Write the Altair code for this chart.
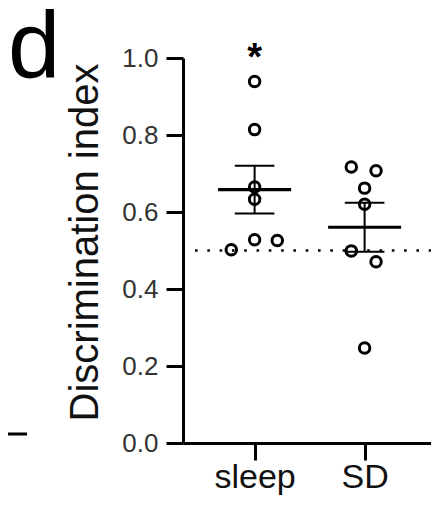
import altair as alt
import pandas as pd
import numpy as np

groups = ["sleep", "SD"]
group_pos = [1, 2]
sleep_values = [0.939, 0.814, 0.665, 0.633, 0.528, 0.526, 0.502]
sleep_jitter = [0.0, 0.0, 0.0, 0.0, 0.0, 0.206, -0.212]
sd_values = [0.717, 0.707, 0.662, 0.620, 0.499, 0.471, 0.247]
sd_jitter = [-0.121, 0.104, 0.0, 0.0, -0.121, 0.104, 0.0]
y_ticks = [0.0, 0.2, 0.4, 0.6, 0.8, 1.0]
chance_level = 0.5
mean_half = 0.332
cap_half = 0.18

FONT = "Liberation Sans"
W = 248
H = 385

rows = []
for g, p, vals, jit in [("sleep", 1, sleep_values, sleep_jitter), ("SD", 2, sd_values, sd_jitter)]:
    for v, j in zip(vals, jit):
        rows.append({"group": g, "x": p + j, "y": v})
pts = pd.DataFrame(rows)

summ = []
for g, p, vals in [("sleep", 1, sleep_values), ("SD", 2, sd_values)]:
    a = np.array(vals)
    m = a.mean()
    se = a.std(ddof=1) / np.sqrt(len(a))
    summ.append({"group": g, "pos": p, "mean": m, "lo": m - se, "hi": m + se,
                 "ml": p - mean_half, "mr": p + mean_half,
                 "cl": p - cap_half, "cr": p + cap_half})
sm = pd.DataFrame(summ)

xscale = alt.Scale(domain=[0.349, 0.349 + W / 110.0], nice=False, zero=False)
yscale = alt.Scale(domain=[0, 1], nice=False)

label_expr = "datum.value == 1 ? 'sleep' : (datum.value == 2 ? 'SD' : '')"

base_x_axis = alt.Axis(values=group_pos, labelExpr=label_expr, title=None, grid=False,
                       domainColor="black", domainWidth=3, tickColor="black", tickWidth=3,
                       tickSize=17, labelFont=FONT, labelFontSize=34, labelColor="#111",
                       labelPadding=0, labelBaseline="top")
base_y_axis = alt.Axis(values=y_ticks, format=".1f", title="Discrimination index", grid=False,
                       domainColor="black", domainWidth=3, tickColor="black", tickWidth=3,
                       tickSize=17, labelFont=FONT, labelFontSize=26, labelColor="#333",
                       labelPadding=8, titleFont=FONT, titleFontSize=40, titleFontWeight="normal",
                       titleColor="#111", titleAngle=270, titleX=-86, titleY=184,
                       titleAlign="center", titleBaseline="alphabetic")

points = alt.Chart(pts).mark_point(shape="circle", filled=False, size=110, strokeWidth=3,
                                   color="black", opacity=1).encode(
    x=alt.X("x:Q", scale=xscale, axis=base_x_axis),
    y=alt.Y("y:Q", scale=yscale, axis=base_y_axis),
)

chance = alt.Chart(pd.DataFrame({"y": [chance_level]})).mark_rule(
    color="black", strokeWidth=2.6, strokeDash=[2.6, 9.7], strokeCap="butt").encode(
    y=alt.Y("y:Q", scale=yscale), x=alt.value(12), x2=alt.value(W))

mean_line = alt.Chart(sm).mark_rule(color="black", strokeWidth=3.2).encode(
    x=alt.X("ml:Q", scale=xscale), x2="mr:Q", y=alt.Y("mean:Q", scale=yscale))
err_v = alt.Chart(sm).mark_rule(color="black", strokeWidth=2).encode(
    x=alt.X("pos:Q", scale=xscale), y=alt.Y("lo:Q", scale=yscale), y2="hi:Q")
cap_hi = alt.Chart(sm).mark_rule(color="black", strokeWidth=2).encode(
    x=alt.X("cl:Q", scale=xscale), x2="cr:Q", y=alt.Y("hi:Q", scale=yscale))
cap_lo = alt.Chart(sm).mark_rule(color="black", strokeWidth=2).encode(
    x=alt.X("cl:Q", scale=xscale), x2="cr:Q", y=alt.Y("lo:Q", scale=yscale))

star = alt.Chart(pd.DataFrame({"x": [1], "y": [1.0], "t": ["*"]})).mark_text(
    font=FONT, fontSize=38, fontWeight="bold", color="black", baseline="alphabetic", dy=12).encode(
    x=alt.X("x:Q", scale=xscale), y=alt.Y("y:Q", scale=yscale), text="t:N")

panel = alt.Chart(pd.DataFrame({"t": ["d"]})).mark_text(
    font=FONT, fontSize=94, color="black", align="left", baseline="alphabetic").encode(
    x=alt.value(-175), y=alt.value(20), text="t:N")

frag = alt.Chart(pd.DataFrame({"a": [0]})).mark_rule(color="black", strokeWidth=3).encode(
    x=alt.value(-175), x2=alt.value(-156), y=alt.value(376))

chart = alt.layer(chance, points, mean_line, err_v, cap_hi, cap_lo, star, panel, frag).properties(
    width=W, height=H,
    autosize=alt.AutoSizeParams(type="none"),
    padding={"left": 175, "top": 50, "right": 0, "bottom": 55},
).configure(background="white").configure_view(stroke=None)

chart.save("out.html", embed_options={"renderer": "svg", "actions": False})
